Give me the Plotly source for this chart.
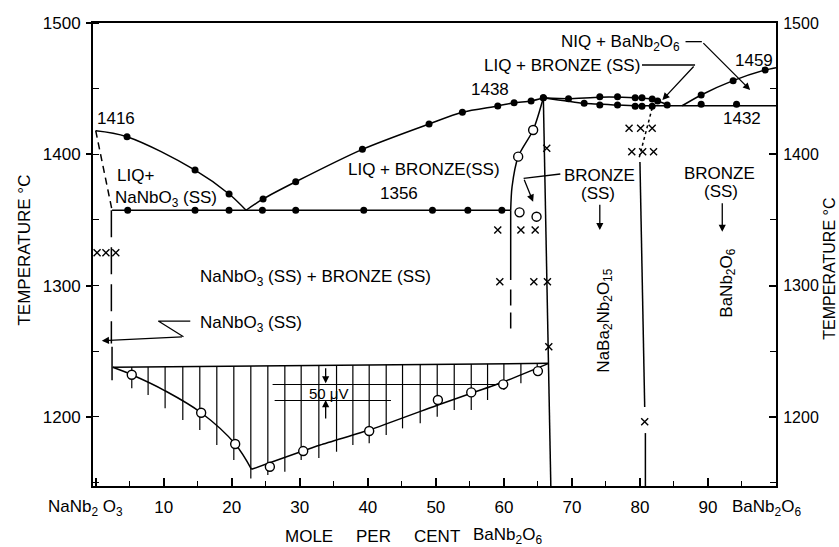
import plotly.graph_objects as go

# ---------------- data (mole % BaNb2O6, temperature degC) ----------------
liq_left_x = [0, 4.6, 14.6, 19.6, 22.1]
liq_left_t = [1418, 1413.4, 1388.0, 1369.8, 1357.4]
liq_left_pts_x = [4.6, 14.6, 19.6]
liq_left_pts_t = [1413.4, 1388.0, 1369.8]

liq_right_x = [22.1, 24.6, 29.4, 39.2, 49.0, 53.9, 59.1, 61.5, 64.0, 65.8]
liq_right_t = [1357.4, 1366.0, 1379.1, 1403.8, 1423.1, 1432.0, 1436.8, 1439.3, 1440.6, 1443.1]

solidus_x = [2.4, 61.0]
solidus_t = [1357.4, 1357.4]
solidus_pts_x = [4.7, 14.6, 19.6, 24.5, 29.4, 39.4, 49.5, 54.7, 59.7]
solidus_pts_t = [1357.4] * 9

na_bound_slant_x = [0, 2.4]
na_bound_slant_t = [1418, 1357.4]
na_bound_vert_x = [2.3, 2.3]
na_bound_vert_t = [1357.4, 1256.0]
na_bound_low_x = [2.4, 2.4]
na_bound_low_t = [1253.5, 1228.0]

bronze_curve_x = [65.8, 64.3, 62.1, 61.2, 61.0]
bronze_curve_t = [1443.1, 1418.5, 1398.2, 1375.3, 1357.4]
bronze_solid_x = [61.0, 61.0]
bronze_solid_t = [1357.4, 1304.3]
bronze_dash_x = [61.0, 61.0]
bronze_dash_t = [1297.0, 1266.0]

comp_line_x = [65.8, 66.9]
comp_line_t = [1443.1, 1147.4]

ba_line_a_x = [80.0, 80.7]
ba_line_a_t = [1394.1, 1207.5]
ba_line_b_x = [80.8, 80.8]
ba_line_b_t = [1187.7, 1147.4]
dotted_x = [81.8, 79.8]
dotted_t = [1435.3, 1395.7]

upper_r_x = [65.8, 69.5, 74.1, 79.3, 81.8, 83.0, 84.5]
upper_r_t = [1443.1, 1442.4, 1443.5, 1443.1, 1442.1, 1439.8, 1437.0]
lower_r_x = [65.8, 71.8, 76.7, 79.3]
lower_r_t = [1443.1, 1438.8, 1437.5, 1437.0]
eut_r_x = [79.3, 100]
eut_r_t = [1437.0, 1437.0]
liq_ba_x = [86.2, 89.0, 93.7, 98.4, 100]
liq_ba_t = [1437.0, 1445.2, 1456.1, 1464.2, 1466.0]

filled_r_x = [65.8, 69.5, 71.8, 74.1, 74.1, 76.7, 76.7, 79.3, 80.3, 81.8, 82.6,
              79.3, 80.3, 81.8, 84.0, 89.0, 89.0, 94.2, 93.7, 98.4]
filled_r_t = [1443.1, 1442.3, 1438.8, 1443.9, 1437.5, 1443.9, 1437.5, 1443.1, 1443.1, 1442.1, 1440.6,
              1436.6, 1436.6, 1436.6, 1437.5, 1445.2, 1438.1, 1438.1, 1456.1, 1464.2]

open_up_x = [64.3, 62.1, 62.3, 64.8]
open_up_t = [1418.5, 1398.2, 1355.8, 1352.5]

cross_x = [0.2, 1.5, 2.95, 59.1, 62.5, 64.6, 59.4, 64.4, 66.4, 66.6, 66.3,
           78.4, 80.1, 81.8, 78.8, 80.4, 82.0, 80.7]
cross_t = [1325.1, 1325.1, 1325.1, 1342.3, 1342.3, 1342.3, 1303.0, 1303.0, 1303.0, 1253.5, 1404.6,
           1419.8, 1419.8, 1419.8, 1402.0, 1402.0, 1402.0, 1196.3]

# thermal (EMF) curve
base_x = [2.5, 66.6]
base_t = [1237.8, 1240.8]
emf_left_x = [2.5, 5.3, 10.2, 15.5, 20.5, 22.9]
emf_left_t = [1237.8, 1232.1, 1219.9, 1203.2, 1179.4, 1160.1]
emf_right_x = [22.9, 33.0, 40.2, 50.3, 55.2, 60.0, 66.6]
emf_right_t = [1160.1, 1178.6, 1190.0, 1209.1, 1218.0, 1226.8, 1240.8]
emf_open_x = [5.3, 15.5, 20.5, 25.6, 30.5, 40.2, 50.3, 55.2, 59.9, 65.0]
emf_open_t = [1232.1, 1203.2, 1179.4, 1162.1, 1174.0, 1189.3, 1212.9, 1218.7, 1224.8, 1234.9]
hatch_x = [5.3, 7.7, 10.2, 12.8, 15.3, 17.8, 20.3, 22.8, 25.3, 27.8, 30.2, 32.8, 35.4,
           37.8, 40.2, 42.7, 45.1, 47.7, 50.2, 52.7, 55.2, 57.6, 60.0, 62.5, 64.9]
hatch_bottom = [1221.8, 1216.7, 1206.6, 1197.6, 1190.0, 1178.6, 1167.2, 1153.2, 1155.7, 1158.3,
                1167.2, 1168.7, 1173.5, 1178.6, 1179.9, 1186.2, 1191.3, 1195.1, 1200.2, 1205.3,
                1205.3, 1212.9, 1220.5, 1225.6, 1233.2]
scale_up_x = [26.0, 60.5]
scale_up_t = [1224.7, 1224.7]
scale_lo_x = [26.3, 43.4]
scale_lo_t = [1212.5, 1212.5]

x_ticks = [0, 10, 20, 30, 40, 50, 60, 70, 80, 90, 100]
x_ticktext = ["", "10", "20", "30", "40", "50", "60", "70", "80", "90", ""]
y_ticks = [1200, 1300, 1400, 1500]

# labels: (text, x, t, xanchor, size, angle)
labels = [
    ("1416", -0.1, 1427.6, "left", 17, 0),
    ("LIQ+", 2.9, 1384.2, "left", 17, 0),
    ("NaNbO<sub>3</sub> (SS)", 2.6, 1366.0, "left", 17, 0),
    ("LIQ + BRONZE(SS)", 48.2, 1388.8, "center", 17, 0),
    ("1356", 44.6, 1369.8, "center", 17, 0),
    ("1438", 57.9, 1449.0, "center", 17, 0),
    ("LIQ + BRONZE (SS)", 68.6, 1467.3, "center", 17, 0),
    ("NIQ + BaNb<sub>2</sub>O<sub>6</sub>", 77.1, 1484.5, "center", 17, 0),
    ("1459", 96.7, 1471.8, "center", 17, 0),
    ("1432", 95.0, 1426.9, "center", 17, 0),
    ("BRONZE", 74.0, 1384.2, "center", 17, 0),
    ("(SS)", 73.8, 1370.3, "center", 17, 0),
    ("BRONZE", 91.7, 1385.5, "center", 17, 0),
    ("(SS)", 91.9, 1371.5, "center", 17, 0),
    ("NaBa<sub>2</sub>Nb<sub>2</sub>O<sub>15</sub>", 74.8, 1273.0, "center", 17, -90),
    ("BaNb<sub>2</sub>O<sub>6</sub>", 92.9, 1302.0, "center", 17, -90),
    ("NaNbO<sub>3</sub> (SS) + BRONZE (SS)", 15.1, 1306.0, "left", 17, 0),
    ("NaNbO<sub>3</sub> (SS)", 15.1, 1271.0, "left", 17, 0),
    ("50 μV", 34.3, 1218.2, "center", 15, 0),
]

# arrows: (tip x, tip t, tail x, tail t)
arrows = [
    (0.9, 1258.0, 12.9, 1261.1),
    (64.3, 1363.9, 62.9, 1381.7),
    (74.1, 1342.3, 74.1, 1362.7),
    (92.1, 1341.0, 92.1, 1363.9),
    (83.3, 1441.4, 88.1, 1468.0),
    (96.2, 1449.0, 89.1, 1485.8),
    (33.8, 1225.6, 33.8, 1238.2),
    (33.8, 1212.9, 33.8, 1197.6),
]
# leader polylines
leaders = [
    ([13.9, 9.2, 12.9], [1273.0, 1273.0, 1261.1]),
    ([68.3, 62.9], [1385.0, 1381.7]),
    ([80.3, 88.1], [1468.0, 1468.0]),
    ([86.7, 89.1], [1485.8, 1485.8]),
]

FONT = "Liberation Sans"
BLK = "black"
fig = go.Figure()


def line(x, y, dash="solid", shape="linear", width=1.5, smooth=1.0):
    fig.add_trace(go.Scatter(x=x, y=y, mode="lines",
                             line=dict(color=BLK, width=width, dash=dash, shape=shape,
                                       smoothing=smooth),
                             hoverinfo="skip", cliponaxis=False))


def pts(x, y, kind):
    if kind == "filled":
        m = dict(symbol="circle", size=7, color=BLK)
    elif kind == "open":
        m = dict(symbol="circle", size=9, color="white", line=dict(color=BLK, width=1.4))
    else:
        m = dict(symbol="x-thin", size=7, color=BLK, line=dict(color=BLK, width=1.4))
    fig.add_trace(go.Scatter(x=x, y=y, mode="markers", marker=m, hoverinfo="skip",
                             cliponaxis=False))


line(liq_left_x, liq_left_t, shape="spline")
line(liq_right_x, liq_right_t, shape="spline", smooth=0.8)
line(solidus_x, solidus_t)
line(na_bound_slant_x, na_bound_slant_t, dash="7px,5px")
line(na_bound_vert_x, na_bound_vert_t, dash="27px,10px")
line(na_bound_low_x, na_bound_low_t)
line(bronze_curve_x, bronze_curve_t, shape="spline", smooth=0.8)
line(bronze_solid_x, bronze_solid_t)
line(bronze_dash_x, bronze_dash_t, dash="16px,7px")
line(comp_line_x, comp_line_t)
line(ba_line_a_x, ba_line_a_t)
line(ba_line_b_x, ba_line_b_t)
line(dotted_x, dotted_t, dash="dot", width=1.5)
line(upper_r_x, upper_r_t, shape="spline", smooth=0.6)
line(lower_r_x, lower_r_t, shape="spline", smooth=0.6)
line(eut_r_x, eut_r_t)
line(liq_ba_x, liq_ba_t, shape="spline", smooth=0.6)

line(base_x, base_t)
line(emf_left_x, emf_left_t, shape="spline")
line(emf_right_x, emf_right_t, shape="spline", smooth=0.5)
hx, hy = [], []
for xv, bv in zip(hatch_x, hatch_bottom):
    top = base_t[0] + (base_t[1] - base_t[0]) * (xv - base_x[0]) / (base_x[1] - base_x[0])
    hx += [xv, xv, None]
    hy += [top, bv, None]
line(hx, hy, width=1.2)
line(scale_up_x, scale_up_t, width=1.2)
line(scale_lo_x, scale_lo_t, width=1.2)
for lx, ly in leaders:
    line(lx, ly, width=1.3)

pts(liq_left_pts_x, liq_left_t[1:4], "filled")
pts(liq_right_x[1:], liq_right_t[1:], "filled")
pts(solidus_pts_x, solidus_pts_t, "filled")
pts(filled_r_x, filled_r_t, "filled")
pts(open_up_x, open_up_t, "open")
pts(emf_open_x, emf_open_t, "open")
pts(cross_x, cross_t, "cross")

# invisible trace for right axis
fig.add_trace(go.Scatter(x=[50], y=[1300], yaxis="y2", mode="markers",
                         marker=dict(opacity=0), hoverinfo="skip"))

ann = []
for text, x, t, xa, size, ang in labels:
    ann.append(dict(x=x, y=t, xref="x", yref="y", text=text, showarrow=False,
                    xanchor=xa, yanchor="middle", textangle=ang,
                    font=dict(family=FONT, size=size, color=BLK)))
for tx, tt, ax, at in arrows:
    ann.append(dict(x=tx, y=tt, ax=ax, ay=at, xref="x", yref="y", axref="x", ayref="y",
                    text="", showarrow=True, arrowhead=2, arrowsize=1.1, arrowwidth=1.3,
                    arrowcolor=BLK, standoff=0, startstandoff=0))

# bottom end labels and axis titles (paper coords)
ann.append(dict(x=-0.011, y=-0.047, xref="paper", yref="paper", text="NaNb<sub>2</sub> O<sub>3</sub>",
                showarrow=False, xanchor="center", yanchor="middle",
                font=dict(family=FONT, size=17, color=BLK)))
ann.append(dict(x=0.933, y=-0.047, xref="paper", yref="paper", text="BaNb<sub>2</sub>O<sub>6</sub>",
                showarrow=False, xanchor="left", yanchor="middle",
                font=dict(family=FONT, size=17, color=BLK)))
for word, px in [("MOLE", 0.316), ("PER", 0.41), ("CENT", 0.504),
                 ("BaNb<sub>2</sub>O<sub>6</sub>", 0.607)]:
    ann.append(dict(x=px, y=-0.108, xref="paper", yref="paper", text=word, showarrow=False,
                    xanchor="center", yanchor="middle",
                    font=dict(family=FONT, size=17, color=BLK)))
ann.append(dict(x=-0.1, y=0.51, xref="paper", yref="paper", text="TEMPERATURE °C",
                showarrow=False, textangle=-90, xanchor="center", yanchor="middle",
                font=dict(family=FONT, size=17, color=BLK)))
ann.append(dict(x=1.078, y=0.47, xref="paper", yref="paper", text="TEMPERATURE °C",
                showarrow=False, textangle=-90, xanchor="center", yanchor="middle",
                font=dict(family=FONT, size=16, color=BLK)))

axis_common = dict(showline=True, linecolor=BLK, linewidth=2, showgrid=False, zeroline=False,
                   tickcolor=BLK, tickwidth=1.5,
                   tickfont=dict(family=FONT, size=17, color=BLK))

fig.update_layout(
    width=839, height=547,
    margin=dict(l=93, r=63, t=23, b=61),
    paper_bgcolor="white", plot_bgcolor="white",
    showlegend=False,
    font=dict(family=FONT, color=BLK),
    xaxis=dict(range=[-0.4, 100], tickvals=x_ticks, ticktext=x_ticktext, ticks="inside",
               ticklen=8, mirror=True, ticklabelstandoff=5,
               minor=dict(dtick=5, tick0=0, ticks="inside", ticklen=5, tickcolor=BLK,
                          tickwidth=1.2),
               **axis_common),
    yaxis=dict(range=[1147.4, 1500], tickvals=y_ticks, ticks="outside", ticklen=5,
               ticklabelstandoff=2,
               minor=dict(dtick=50, tick0=1150, ticks="inside", ticklen=6, tickcolor=BLK,
                          tickwidth=1.2),
               **axis_common),
    yaxis2=dict(range=[1147.4, 1500], overlaying="y", side="right", tickvals=y_ticks,
                ticks="inside", ticklen=7, ticklabelstandoff=2,
                minor=dict(dtick=50, tick0=1150, ticks="inside", ticklen=6, tickcolor=BLK,
                           tickwidth=1.2),
                **{k: v for k, v in axis_common.items() if k != "tickfont"},
                tickfont=dict(family=FONT, size=16, color=BLK)),
    annotations=ann,
)

fig.write_html("out.html")
